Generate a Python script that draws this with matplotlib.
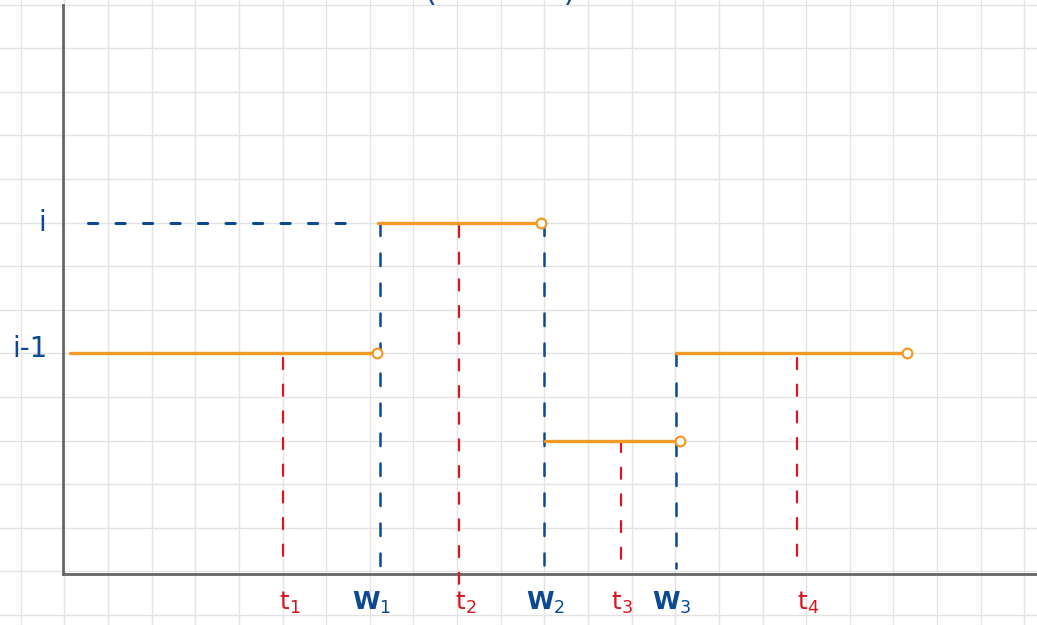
import matplotlib
matplotlib.use("Agg")
import matplotlib.pyplot as plt
import numpy as np

# levels (grid units)
level_names = ["i", "i-1"]
level_values = [8, 5]

# orange step segments
seg_start = [0.13, 7.19, 11.02, 14.02]
seg_end = [7.17, 10.93, 14.11, 19.31]
seg_level = [5, 8, 3, 5]

# blue W markers
w_labels = ["W$_1$", "W$_2$", "W$_3$"]
w_x = [7.24, 11.0, 14.02]
w_top = [8, 8, 5]
w_bottom = [0.08, 0.15, 0.08]

# red t markers
t_labels = ["t$_1$", "t$_2$", "t$_3$", "t$_4$"]
t_x = [5.0, 9.05, 12.75, 16.8]
t_top = [4.89, 7.92, 2.99, 4.89]
t_bottom = [0.0, -0.29, 0.0, 0.26]

# dashed carry-over of level i
carry_start, carry_end, carry_level = 0.55, 6.78, 8

ORANGE = "#f39a27"
BLUE = "#0b4a93"
RED = "#d8161f"
GRID = "#e3e3e3"
AXIS = "#666666"

fig = plt.figure(figsize=(10.37, 6.25), dpi=100)
ax = fig.add_axes([0, 0, 1, 1])
ax.set_xlim(-1.474, 22.29)
ax.set_ylim(-1.229, 13.106)
ax.axis("off")

# grid paper
for gx in range(-1, 23):
    ax.axvline(gx, color=GRID, lw=1.0, zorder=0)
for gy in range(-1, 14):
    ax.axhline(gy, color=GRID, lw=1.0, zorder=0)

# axes
ax.plot([-0.023, -0.023], [-0.07, 13.0], color=AXIS, lw=2.0, zorder=1)
ax.plot([-0.023, 22.3], [-0.07, -0.07], color=AXIS, lw=2.0, zorder=1)

# dashed level i before W1
ax.plot([carry_start, carry_end], [carry_level, carry_level], color=BLUE, lw=2.2,
        dashes=(3, 6), solid_capstyle="round", dash_capstyle="round", zorder=2)

# blue vertical W lines (drawn top-down so the dash starts at the step)
for x, top, bot in zip(w_x, w_top, w_bottom):
    ax.plot([x, x], [top, bot], color=BLUE, lw=1.8, dashes=(5, 7),
            dash_capstyle="round", zorder=2)

# red vertical t lines
for x, top, bot in zip(t_x, t_top, t_bottom):
    ax.plot([x, x], [top, bot], color=RED, lw=1.6, dashes=(5, 7),
            dash_capstyle="round", zorder=2)

# orange steps with open right ends
for s, e, lv in zip(seg_start, seg_end, seg_level):
    ax.plot([s, e], [lv, lv], color=ORANGE, lw=2.4, solid_capstyle="round", zorder=3)
    ax.plot([e], [lv], marker="o", ms=7, mfc="white", mec=ORANGE, mew=1.6, zorder=4)

# axis labels
lab_y = -0.72
for lab, x in zip(t_labels, [5.17, 9.2, 12.78, 17.04]):
    ax.text(x, lab_y, lab, color=RED, fontsize=18, ha="center", va="center")
for lab, x in zip(w_labels, [7.05, 11.02, 13.93]):
    ax.text(x, lab_y, lab, color=BLUE, fontsize=18, ha="center", va="center",
            fontweight="bold")

ax.text(-0.51, level_values[0], level_names[0], color=BLUE, fontsize=20,
        ha="center", va="center")
ax.text(-0.78, level_values[1] + 0.1, level_names[1], color=BLUE, fontsize=20,
        ha="center", va="center")

# title running off the top edge, only its lower strokes show
ax.text(9.99, 12.95, "(             )", color=BLUE, fontsize=22,
        ha="center", va="bottom", clip_on=True)

fig.savefig("out.png", dpi=100)
